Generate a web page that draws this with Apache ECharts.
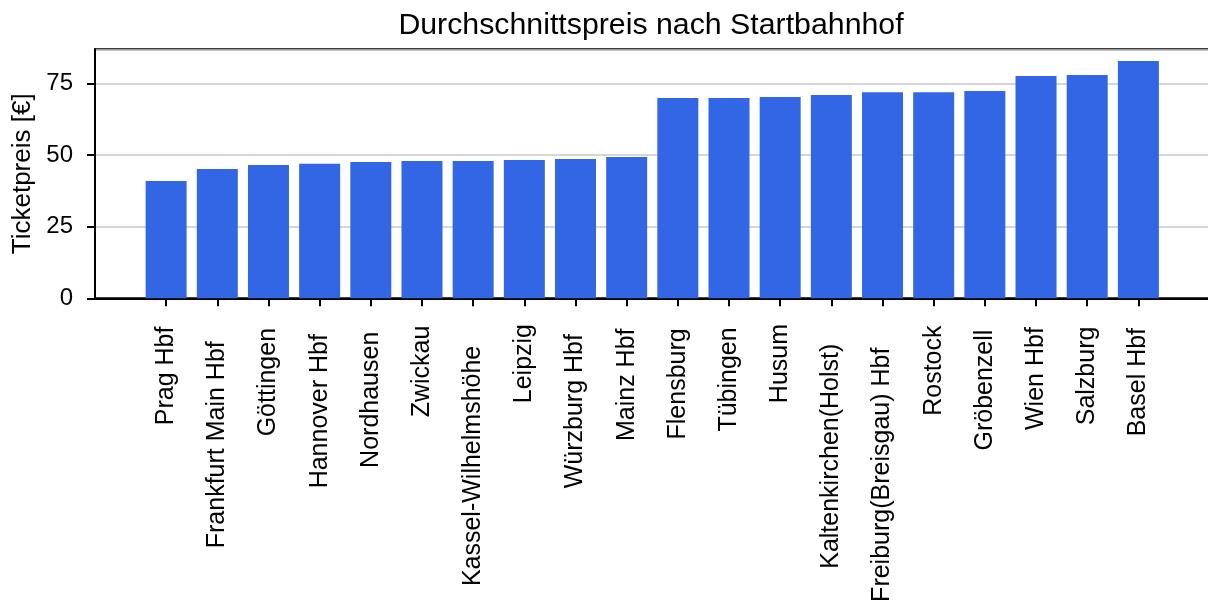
<!DOCTYPE html>
<html>
<head>
<meta charset="utf-8">
<script src="https://cdn.jsdelivr.net/npm/echarts@6/dist/echarts.min.js"></script>
<style>
html,body{margin:0;padding:0;background:#fff;}
#c{width:1208px;height:604px;}
</style>
</head>
<body>
<div id="c"></div>
<script>
const titleText = 'Durchschnittspreis nach Startbahnhof';
const yAxisName = 'Ticketpreis [€]';
const categories = ['Prag Hbf','Frankfurt Main Hbf','Göttingen','Hannover Hbf','Nordhausen','Zwickau','Kassel-Wilhelmshöhe','Leipzig','Würzburg Hbf','Mainz Hbf','Flensburg','Tübingen','Husum','Kaltenkirchen(Holst)','Freiburg(Breisgau) Hbf','Rostock','Gröbenzell','Wien Hbf','Salzburg','Basel Hbf'];
const prices = [40.9,45.1,46.5,46.9,47.5,47.9,47.9,48.2,48.6,49.3,69.9,69.9,70.2,70.9,71.9,71.9,72.3,77.5,77.9,82.8];
const yTicks = [0,25,50,75];

const FONT = '"Liberation Sans", Arial, Helvetica, sans-serif';
const LABEL_SIZE = 25;

// measure label widths to mimic the reference's uneven label offsets
const ctx = document.createElement('canvas').getContext('2d');
ctx.font = LABEL_SIZE + 'px "Liberation Sans"';
const rich = {};
categories.forEach((c, i) => {
  const w = ctx.measureText(c).width;
  rich['s' + i] = { fontSize: LABEL_SIZE, fontFamily: FONT, color: '#000', padding: [0, Math.max(0, w * 0.135), 0, 0] };
});

const chart = echarts.init(document.getElementById('c'), null, { renderer: 'canvas' });
const idx = categories.map((_, i) => i);
chart.setOption({
  animation: false,
  backgroundColor: '#fff',
  title: {
    text: titleText, left: 646, textAlign: 'center', top: 6,
    textStyle: { fontFamily: FONT, fontSize: 30.3, fontWeight: 'normal', color: '#000' }
  },
  grid: { left: 95, top: 49.3, width: 1114.5, bottom: 305.7, show: true, borderColor: '#000', borderWidth: 2,
    containLabel: false, outerBoundsMode: 'none' },
  xAxis: {
    type: 'value', min: -1.39, max: 20.39,
    axisLine: { show: true, onZero: false, lineStyle: { color: '#000', width: 2 } },
    axisTick: { show: true, customValues: idx, length: 8, lineStyle: { color: '#000', width: 2 } },
    axisLabel: {
      customValues: idx, rotate: 90, margin: 15,
      formatter: v => { const i = Math.round(v); return '{s' + i + '|' + categories[i] + '}'; },
      rich: rich, fontFamily: FONT, fontSize: LABEL_SIZE, color: '#000'
    },
    splitLine: { show: false }
  },
  yAxis: {
    type: 'value', min: 0, max: 86.85, interval: 25,
    name: yAxisName, nameLocation: 'middle', nameGap: 58, nameRotate: 90,
    nameTextStyle: { fontFamily: FONT, fontSize: 26, color: '#000' },
    axisLine: { show: true, onZero: false, lineStyle: { color: '#000', width: 2 } },
    axisTick: { show: true, length: 8, lineStyle: { color: '#000', width: 2 } },
    axisLabel: { fontFamily: FONT, fontSize: 24, color: '#000', margin: 22, showMaxLabel: false,
      formatter: v => (yTicks.indexOf(v) >= 0 ? String(v) : '') },
    splitLine: { show: true, lineStyle: { color: '#c8c8c8', width: 1.5 } }
  },
  series: [{
    type: 'bar', barWidth: 41,
    itemStyle: { color: '#3366e5' },
    data: prices.map((p, i) => [i, p])
  }]
});
</script>
</body>
</html>
